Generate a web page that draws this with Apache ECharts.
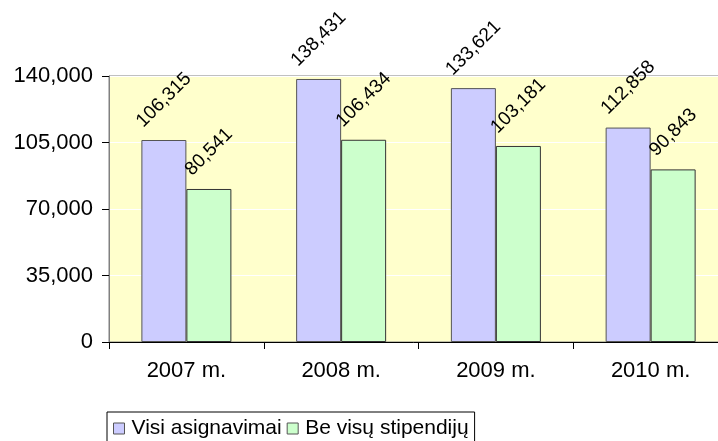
<!DOCTYPE html>
<html><head><meta charset="utf-8">
<script src="https://cdn.jsdelivr.net/npm/echarts@6/dist/echarts.min.js"></script>
<style>html,body{margin:0;padding:0;background:#fff}#c{width:718px;height:441px}</style>
</head><body><div id="c"></div>
<script>
const categories = ['2007 m.', '2008 m.', '2009 m.', '2010 m.'];
const seriesNames = ['Visi asignavimai', 'Be visų stipendijų'];
const visi = [106315, 138431, 133621, 112858];
const be = [80541, 106434, 103181, 90843];
const yTicks = {min: 0, max: 140000, interval: 35000};

const fmt = v => v.toLocaleString('en-US');
const font = 'Liberation Sans, Arial, sans-serif';
const chart = echarts.init(document.getElementById('c'));
const lbl = {
  show: true, position: 'top', rotate: 45, align: 'center', verticalAlign: 'middle',
  color: '#000', fontFamily: font, fontSize: 19,
  formatter: p => fmt(p.value)
};
const mk = arr => arr.map(v => ({value: v, label: {distance: fmt(v).length > 6 ? 40 : 37}}));
chart.setOption({
  animation: false,
  textStyle: {fontFamily: font},
  grid: {left: 109, top: 76, width: 619, height: 266, show: true, outerBoundsMode: 'none', containLabel: false,
    backgroundColor: '#FFFFCC', borderColor: '#808080', borderWidth: 1},
  xAxis: {type: 'category', data: categories,
    axisLine: {lineStyle: {color: '#000', width: 1}},
    axisTick: {show: true, length: 7, lineStyle: {color: '#000'}},
    axisLabel: {color: '#000', fontSize: 22, fontFamily: font, margin: 18}},
  yAxis: {type: 'value', min: yTicks.min, max: yTicks.max, interval: yTicks.interval,
    axisLine: {show: true, lineStyle: {color: '#808080'}},
    axisTick: {show: true, length: 7, lineStyle: {color: '#000'}},
    axisLabel: {color: '#000', fontSize: 22, fontFamily: font, margin: 16, formatter: v => fmt(v)},
    splitLine: {lineStyle: {color: '#FFFFFF', width: 1}}},
  legend: {left: 107, top: 412, orient: 'horizontal', icon: 'rect', itemWidth: 11, itemHeight: 11,
    itemGap: 5, padding: [6, 6, 12, 6], borderColor: '#000', borderWidth: 1,
    itemStyle: {borderColor: '#555', borderWidth: 1},
    textStyle: {color: '#000', fontSize: 21, fontFamily: font, padding: [0, 0, 0, 2]}, data: seriesNames},
  series: [
    {name: seriesNames[0], type: 'bar', data: mk(visi), barWidth: 45, barGap: '0%',
      itemStyle: {color: '#CCCCFF', borderColor: '#555', borderWidth: 1}, label: lbl},
    {name: seriesNames[1], type: 'bar', data: mk(be), barWidth: 45, barGap: '0%',
      itemStyle: {color: '#CCFFCC', borderColor: '#333', borderWidth: 1}, label: lbl}
  ]
});
</script></body></html>
